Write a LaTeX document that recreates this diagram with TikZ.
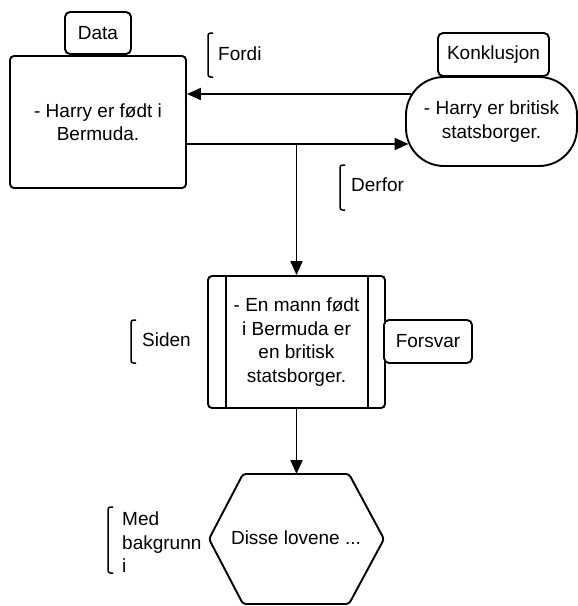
\documentclass[tikz,border=0pt]{standalone}
\usepackage{fontspec}
\setmainfont{Liberation Sans}
\usetikzlibrary{arrows.meta,calc}
\newcommand{\diagfont}{\fontsize{19}{23.5}\selectfont}

\begin{document}
\begin{tikzpicture}[x=1pt,y=-1pt,
  lw/.style={line width=1.9pt},
  box/.style={draw,lw,fill=white,rounded corners=4pt,inner sep=0pt,align=center,font=\diagfont},
  tag/.style={box,rounded corners=5pt},
  lbl/.style={inner sep=0pt,font=\diagfont,align=left},
  brk/.style={draw,line width=1.5pt,rounded corners=2.5pt},
  arr/.style={lw,-{Triangle[length=14pt,width=12pt]}},
  ln/.style={lw}]
\useasboundingbox (0,0) rectangle (578,606);

% claim boxes and their tags
\node[tag,minimum width=66pt,minimum height=42pt] (datatag) at (98,33) {Data};
\node[box,minimum width=176pt,minimum height=132pt] (data) at (98,122)
  {- Harry er født i\\Bermuda.};

\node[tag,minimum width=111pt,minimum height=43pt] (concltag) at (493.5,54.5) {Konklusjon};
\node[box,rounded corners=38pt,minimum width=171pt,minimum height=89pt] (concl) at (491.5,121.5)
  {- Harry er britisk\\statsborger.};

% warrant with its side bars
\node[box,minimum width=177pt,minimum height=132pt] (warrant) at (296.5,342)
  {- En mann født\\i Bermuda er\\en britisk\\statsborger.};
\draw[ln] ($(warrant.north west)+(19,0)$) -- ($(warrant.south west)+(19,0)$);
\draw[ln] ($(warrant.north east)+(-18,0)$) -- ($(warrant.south east)+(-18,0)$);
\node[tag,minimum width=88pt,minimum height=43pt] (forsvar) at (428,341.5) {Forsvar};

% backing hexagon
\draw[lw,rounded corners=3pt,fill=white] (209,539) -- (243,474) -- (349,474) -- (384,539)
  -- (349,604) -- (243,604) -- cycle;
\node[lbl] (backing) at (296,538) {Disse lovene ...};
\coordinate (hextop) at (296.5,474);

% bracket labels
\draw[brk] (213,33) -- (208,33) -- (208,77) -- (213,77);
\node[lbl,anchor=west] (fordi) at (218,53.5) {Fordi};
\draw[brk] (345,165) -- (340,165) -- (340,210) -- (345,210);
\node[lbl,anchor=west] (derfor) at (351,185) {Derfor};
\draw[brk] (136,320) -- (131,320) -- (131,363) -- (136,363);
\node[lbl,anchor=west] (siden) at (142,339.5) {Siden};
\draw[brk] (113,507) -- (108,507) -- (108,573) -- (113,573);
\node[lbl,anchor=north west] (med) at (122,512) {Med\\bakgrunn\\i};

% connectors
\coordinate (ytop) at (0,94);
\coordinate (ybot) at (0,144);
\draw[arr] ($(concl.west |- ytop)+(6.3,0)$) -- (data.east |- ytop);
\draw[arr] (data.east |- ybot) -- ($(concl.west |- ybot)+(3.5,0)$);
\draw[arr] (warrant.north |- ybot) -- (warrant.north);
\draw[arr] (warrant.south) -- (hextop);
\end{tikzpicture}
\end{document}
